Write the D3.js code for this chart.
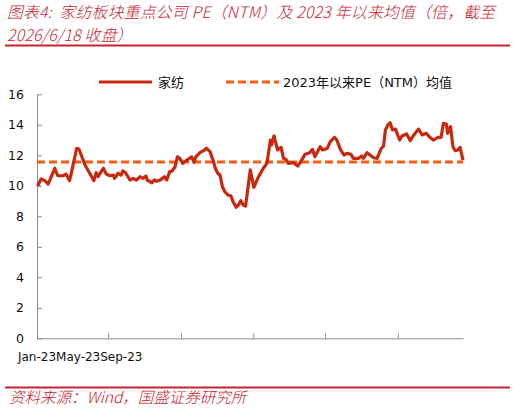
<!DOCTYPE html>
<html>
<head>
<meta charset="utf-8">
<script src="https://cdn.jsdelivr.net/npm/d3@7"></script>
<style>
  html, body { margin: 0; padding: 0; background: #fff; }
  svg { display: block; }
  text { font-family: "DejaVu Sans", "Noto Sans CJK SC", sans-serif; }
  .title { font-family: "Noto Sans CJK SC", sans-serif; font-weight: 300; }
</style>
</head>
<body>
<div id="chart"></div>
<script>
"use strict";

// 家纺 PE (NTM)
var dates = [
  "2023-01-02", "2023-01-08", "2023-01-14", "2023-01-20", "2023-01-31", "2023-02-05",
  "2023-02-14", "2023-02-19", "2023-02-25", "2023-03-09", "2023-03-13", "2023-03-23",
  "2023-03-31", "2023-04-07", "2023-04-11", "2023-04-14", "2023-04-23", "2023-04-28",
  "2023-05-04", "2023-05-10", "2023-05-12", "2023-05-18", "2023-05-23", "2023-05-26",
  "2023-05-30", "2023-06-07", "2023-06-12", "2023-06-18", "2023-06-24", "2023-06-29",
  "2023-07-04", "2023-07-06", "2023-07-14", "2023-07-18", "2023-07-22", "2023-07-28",
  "2023-08-04", "2023-08-08", "2023-08-13", "2023-08-17", "2023-08-22", "2023-08-26",
  "2023-08-30", "2023-09-04", "2023-09-08", "2023-09-13", "2023-09-19", "2023-09-23",
  "2023-09-26", "2023-10-03", "2023-10-09", "2023-10-14", "2023-10-20", "2023-10-25",
  "2023-10-29", "2023-11-02", "2023-11-06", "2023-11-10", "2023-11-14", "2023-11-19",
  "2023-11-24", "2023-11-28", "2023-12-03", "2023-12-07", "2023-12-11", "2023-12-15",
  "2023-12-19", "2023-12-27", "2024-01-02", "2024-01-10", "2024-01-18", "2024-01-24",
  "2024-01-30", "2024-02-01", "2024-02-05", "2024-02-11", "2024-02-17", "2024-02-21",
  "2024-02-25", "2024-02-29", "2024-03-09", "2024-03-16", "2024-03-23", "2024-03-28",
  "2024-04-05", "2024-04-10", "2024-04-14", "2024-04-23", "2024-04-27", "2024-05-05",
  "2024-05-10", "2024-05-17", "2024-05-21", "2024-05-27", "2024-06-02", "2024-06-07",
  "2024-06-14", "2024-06-18", "2024-06-27", "2024-07-02", "2024-07-05", "2024-07-11",
  "2024-07-16", "2024-07-22", "2024-07-28", "2024-08-04", "2024-08-08", "2024-08-11",
  "2024-08-16", "2024-08-19", "2024-08-23", "2024-08-28", "2024-09-04", "2024-09-08",
  "2024-09-16", "2024-09-22", "2024-09-28", "2024-10-06", "2024-10-12", "2024-10-19",
  "2024-10-25", "2024-10-31", "2024-11-08", "2024-11-13", "2024-11-17", "2024-11-22",
  "2024-11-24", "2024-11-29", "2024-12-03", "2024-12-07", "2024-12-11", "2024-12-15",
  "2024-12-20"
];

var pe = [
  9.99, 10.45, 10.34, 10.12, 11.15, 10.66,
  10.66, 10.77, 10.34, 12.46, 12.40, 11.36,
  10.82, 10.34, 10.86, 10.60, 11.15, 10.77,
  10.66, 10.70, 10.49, 10.82, 10.70, 10.97,
  10.88, 10.38, 10.49, 10.38, 10.60, 10.49,
  10.64, 10.38, 10.20, 10.38, 10.30, 10.38,
  10.60, 10.38, 10.93, 10.97, 11.25, 11.90,
  11.80, 11.47, 11.60, 11.74, 11.90, 11.54,
  11.90, 12.17, 12.30, 12.46, 12.24, 11.69,
  11.15, 10.82, 10.70, 9.94, 9.61, 9.40,
  9.35, 8.96, 8.59, 8.74, 9.02, 8.74,
  8.67, 11.04, 9.90, 10.60, 11.15, 11.47,
  13.00, 12.68, 13.27, 12.35, 12.52, 11.80,
  11.74, 11.47, 11.51, 11.30, 11.69, 12.06,
  12.17, 12.39, 11.90, 12.56, 12.35, 12.46,
  12.90, 13.18, 13.00, 12.39, 12.02, 12.13,
  12.06, 11.80, 11.80, 11.95, 11.80, 12.17,
  12.02, 11.84, 11.80, 12.46, 12.61, 13.66,
  14.03, 14.14, 13.66, 13.72, 13.00, 13.27,
  13.40, 12.96, 13.33, 13.72, 13.33, 13.44,
  13.18, 13.00, 13.18, 13.18, 14.10, 14.05,
  13.44, 13.88, 12.56, 12.30, 12.35, 12.52,
  11.69
];

var meanPE = 11.56;

var yTicks = [0, 2, 4, 6, 8, 10, 12, 14, 16];
var xTicks = ["2023-01-01", "2023-05-01", "2023-09-01", "2024-01-01", "2024-05-01", "2024-09-01"];
var xLabels = ["Jan-23", "May-23", "Sep-23"];
var xStart = "2023-01-01";

var seriesName = "家纺";
var meanName = "2023年以来PE（NTM）均值";
var titleLines = [
  "图表4:  家纺板块重点公司 PE（NTM）及 2023 年以来均值（倍，截至",
  "2026/6/18 收盘）"
];
var sourceText = "资料来源：Wind，国盛证券研究所";

draw();

function draw() {
  var W = 516, H = 412;
  var margin = { top: 94.3, left: 37, right: 53, bottom: 73.7 };
  var width = W - margin.left - margin.right,
    height = H - margin.top - margin.bottom;

  var parse = d3.utcParse("%Y-%m-%d");
  var data = dates.map(function(d, i) {
    return { x: parse(d), y: pe[i] };
  });

  var x = d3.scaleUtc()
    .domain([parse(xStart), data[data.length - 1].x])
    .range([0, width]);
  var y = d3.scaleLinear().domain([0, 16]).range([height, 0]);

  var svg = d3.select("#chart")
    .append("svg")
    .attr("width", W)
    .attr("height", H);

  var red = "#c42330";

  // title, wrapped onto two lines
  svg.append("g")
    .selectAll("text")
    .data(titleLines)
    .enter()
    .append("text")
    .attr("class", "title")
    .attr("x", 7)
    .attr("y", function(d, i) { return 17.5 + i * 23; })
    .attr("fill", red)
    .attr("font-size", 15.8)
    .attr("letter-spacing", 0.25)
    .attr("font-style", "italic")
    .style("white-space", "pre")
    .text(function(d) { return d; });

  svg.append("line")
    .attr("x1", 5).attr("x2", 510)
    .attr("y1", 45.5).attr("y2", 45.5)
    .attr("stroke", red)
    .attr("stroke-width", 1.8);

  svg.append("line")
    .attr("x1", 5).attr("x2", 510)
    .attr("y1", 387.5).attr("y2", 387.5)
    .attr("stroke", red)
    .attr("stroke-width", 1.8);

  svg.append("text")
    .attr("class", "title")
    .attr("x", 9)
    .attr("y", 403)
    .attr("fill", red)
    .attr("font-size", 15.5)
    .attr("font-style", "italic")
    .text(sourceText);

  var g = svg.append("g")
    .attr("transform", "translate(" + margin.left + "," + margin.top + ")");

  // axes
  var yAxis = g.append("g")
    .call(d3.axisLeft(y).tickValues(yTicks).tickSizeInner(-5).tickSizeOuter(0).tickPadding(13));
  var xAxis = g.append("g")
    .attr("transform", "translate(0," + height + ")")
    .call(d3.axisBottom(x).tickValues(xTicks.map(parse)).tickSizeInner(-5).tickSizeOuter(0).tickFormat(""));

  [yAxis, xAxis].forEach(function(a) {
    a.select(".domain").attr("stroke", "#8c8c8c");
    a.selectAll(".tick line").attr("stroke", "#8c8c8c");
  });
  yAxis.selectAll(".tick text")
    .attr("font-size", 12.5)
    .attr("font-family", "DejaVu Sans")
    .attr("fill", "#111");

  // squeezed date labels, one after the other
  var lx = x(parse(xStart));
  var first = true;
  xLabels.forEach(function(lab) {
    var t = g.append("text")
      .attr("y", height + 23)
      .attr("font-size", 12)
      .attr("fill", "#111")
      .text(lab);
    var w = t.node().getComputedTextLength();
    if (first) { lx = lx - w / 2; first = false; }
    t.attr("x", lx);
    lx += w;
  });

  // mean line
  g.append("line")
    .attr("x1", 0).attr("x2", width)
    .attr("y1", y(meanPE)).attr("y2", y(meanPE))
    .attr("stroke", "#fa5a14")
    .attr("stroke-width", 3)
    .attr("stroke-dasharray", "8,4");

  var line = d3.line()
    .x(function(d) { return x(d.x); })
    .y(function(d) { return y(d.y); });

  g.append("path")
    .datum(data)
    .attr("fill", "none")
    .attr("stroke", "#c8280e")
    .attr("stroke-width", 3.2)
    .attr("stroke-linejoin", "round")
    .attr("d", line);

  // legend
  var leg = svg.append("g");
  leg.append("line")
    .attr("x1", 99).attr("x2", 152).attr("y1", 82).attr("y2", 82)
    .attr("stroke", "#c8280e").attr("stroke-width", 3.2);
  leg.append("text")
    .attr("x", 158).attr("y", 87)
    .attr("font-size", 13).attr("fill", "#111")
    .text(seriesName);
  leg.append("line")
    .attr("x1", 226).attr("x2", 279).attr("y1", 82).attr("y2", 82)
    .attr("stroke", "#fa5a14").attr("stroke-width", 3)
    .attr("stroke-dasharray", "8,4");
  leg.append("text")
    .attr("x", 283).attr("y", 87)
    .attr("font-size", 13).attr("fill", "#111")
    .text(meanName);
}
</script>
</body>
</html>
